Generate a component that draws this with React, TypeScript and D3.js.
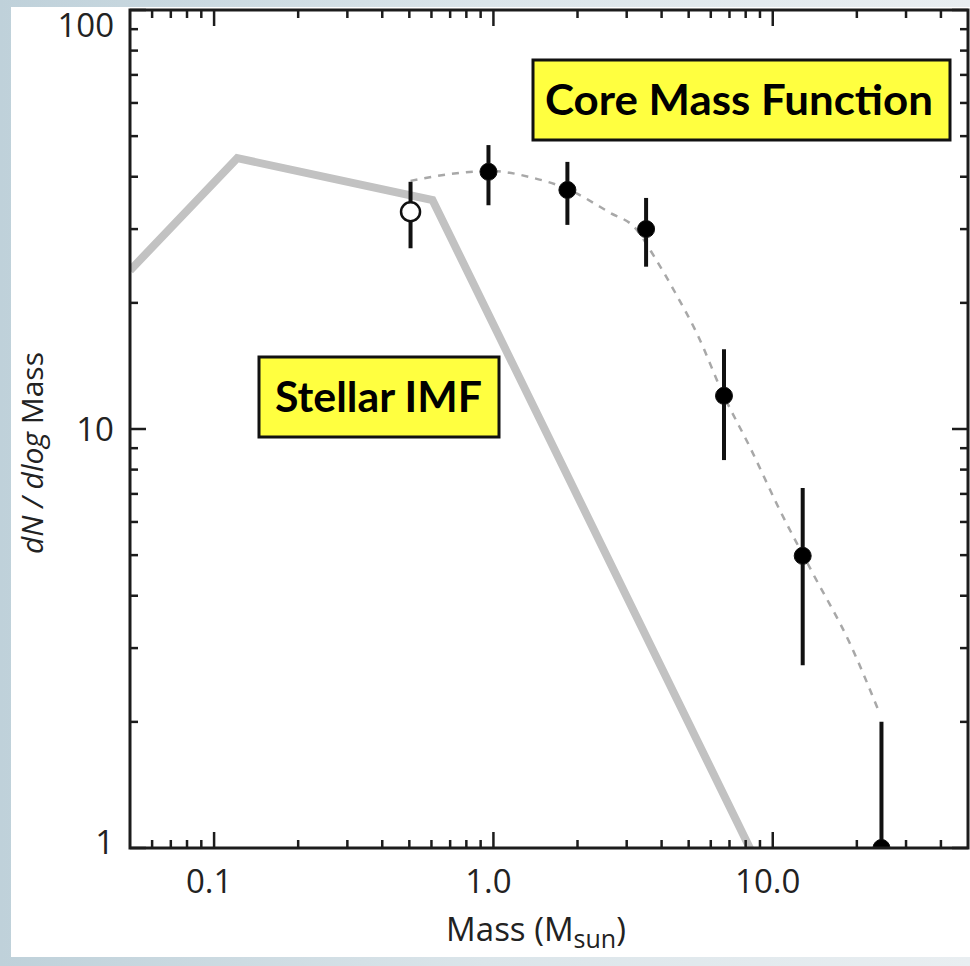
import React from "react";
import * as d3 from "d3";

// ---- data ----
const imfMass = [0.05, 0.121, 0.605, 8.8];
const imfN = [23.9, 44.3, 35.2, 0.92];

const coreMass = [0.505, 0.96, 1.84, 3.52, 6.69, 12.8, 24.5];
const coreN = [33.0, 41.1, 37.2, 30.0, 12.0, 4.98, 1.0];
const coreLo = [27.0, 34.2, 30.7, 24.4, 8.43, 2.73, 0.5];
const coreHi = [38.9, 47.6, 43.4, 35.6, 15.5, 7.23, 2.0];
const coreOpen = [true, false, false, false, false, false, false];

const fitMass = [0.505, 0.702, 0.976, 1.356, 1.838, 2.617, 3.215, 3.79, 4.467, 5.353, 6.683, 8.278, 10.59, 13.9, 18.84, 24.1];
const fitN = [39.1, 40.6, 41.3, 39.9, 37.4, 32.8, 30.2, 25.6, 21.2, 16.9, 12.0, 9.06, 6.41, 4.53, 3.09, 2.1];

const xMajor = [0.1, 1, 10];
const xMajorLabels = ["0.1", "1.0", "10.0"];
const xMinor = [0.06, 0.07, 0.08, 0.09, 0.2, 0.3, 0.4, 0.5, 0.6, 0.7, 0.8, 0.9, 2, 3, 4, 5, 6, 7, 8, 9, 20, 30, 40];
const yMajor = [1, 10, 100];
const yMajorLabels = ["1", "10", "100"];
const yMinor = [2, 3, 4, 5, 6, 7, 8, 9, 20, 30, 40, 50, 60, 70, 80, 90];

const W = 970;
const H = 966;
const L = 130, R = 968, T = 10, B = 848;

export default function App() {
  const x = d3.scaleLog().domain([0.05, 50]).range([L, R]);
  const y = d3.scaleLog().domain([1, 100]).range([B, T]);

  const imfLine = d3.line<number>().x((_, i) => x(imfMass[i])).y((_, i) => y(imfN[i]));
  const fitLine = d3
    .line<number>()
    .x((_, i) => x(fitMass[i]))
    .y((_, i) => y(fitN[i]))
    .curve(d3.curveMonotoneX);

  const axisColor = "#1c1c1c";
  const font = "'Open Sans', 'Noto Sans', sans-serif";
  const boxFont = "Lato, 'Open Sans', sans-serif";
  const MAJ = 16, MIN = 8;

  return (
    <svg width={W} height={H} style={{ position: "absolute", left: 0, top: 0 }}>
      <defs>
        <linearGradient id="bg" x1="0" y1="0" x2="1" y2="0">
          <stop offset="0" stopColor="#bfd1da" />
          <stop offset="0.5" stopColor="#dbe5ea" />
          <stop offset="1" stopColor="#e9eef1" />
        </linearGradient>
        <clipPath id="plot">
          <rect x={L} y={T} width={R - L} height={B - T} />
        </clipPath>
      </defs>
      <rect x={0} y={0} width={W} height={H} fill="url(#bg)" />
      <rect x={11} y={7} width={W - 11} height={957 - 7} fill="#ffffff" />

      <g clipPath="url(#plot)">
        <path d={imfLine(imfMass) || ""} fill="none" stroke="#c2c2c2" strokeWidth={8} strokeLinejoin="miter" />
        <path d={fitLine(fitMass) || ""} fill="none" stroke="#a8a8a8" strokeWidth={2.5} strokeDasharray="7,7" />
        {coreMass.map((m, i) => (
          <line key={"e" + i} x1={x(m)} x2={x(m)} y1={y(coreLo[i])} y2={y(coreHi[i])} stroke="#111" strokeWidth={4} />
        ))}
        {coreMass.map((m, i) => (
          <circle
            key={"c" + i}
            cx={x(m)}
            cy={y(coreN[i])}
            r={coreOpen[i] ? 9.5 : 8.5}
            fill={coreOpen[i] ? "#ffffff" : "#000000"}
            stroke="#111"
            strokeWidth={coreOpen[i] ? 2.5 : 1}
          />
        ))}
      </g>

      {/* frame */}
      <rect x={L} y={T} width={R - L} height={B - T} fill="none" stroke={axisColor} strokeWidth={3} />

      {/* x ticks (bottom + top) */}
      {xMajor.map((v) => (
        <g key={"xM" + v}>
          <line x1={x(v)} x2={x(v)} y1={B} y2={B - MAJ} stroke={axisColor} strokeWidth={2.5} />
          <line x1={x(v)} x2={x(v)} y1={T} y2={T + MAJ} stroke={axisColor} strokeWidth={2.5} />
        </g>
      ))}
      {xMinor.map((v) => (
        <g key={"xm" + v}>
          <line x1={x(v)} x2={x(v)} y1={B} y2={B - MIN} stroke={axisColor} strokeWidth={2.5} />
          <line x1={x(v)} x2={x(v)} y1={T} y2={T + MIN} stroke={axisColor} strokeWidth={2.5} />
        </g>
      ))}
      {/* y ticks (left + right) */}
      {yMajor.map((v) => (
        <g key={"yM" + v}>
          <line x1={L} x2={L + MAJ} y1={y(v)} y2={y(v)} stroke={axisColor} strokeWidth={2.5} />
          <line x1={R} x2={R - MAJ} y1={y(v)} y2={y(v)} stroke={axisColor} strokeWidth={2.5} />
        </g>
      ))}
      {yMinor.map((v) => (
        <g key={"ym" + v}>
          <line x1={L} x2={L + MIN} y1={y(v)} y2={y(v)} stroke={axisColor} strokeWidth={2.5} />
          <line x1={R} x2={R - MIN} y1={y(v)} y2={y(v)} stroke={axisColor} strokeWidth={2.5} />
        </g>
      ))}

      {/* tick labels */}
      {xMajor.map((v, i) => (
        <text key={"xl" + v} x={x(v) - 5} y={893} textAnchor="middle" fontFamily={font} fontSize={33} fill="#222">
          {xMajorLabels[i]}
        </text>
      ))}
      {yMajor.map((v, i) => (
        <text
          key={"yl" + v}
          x={114}
          y={Math.min(Math.max(y(v), 25), 842)}
          dy="0.35em"
          textAnchor="end"
          fontFamily={font}
          fontSize={33}
          fill="#222"
        >
          {yMajorLabels[i]}
        </text>
      ))}

      {/* axis titles */}
      <text x={536} y={941} textAnchor="middle" fontFamily={font} fontSize={33} fill="#222">
        Mass (M<tspan fontSize={25} dy={7}>sun</tspan><tspan dy={-7}>)</tspan>
      </text>
      <text
        transform={`translate(43, ${(B + T) / 2 + 24}) rotate(-90)`}
        textAnchor="middle"
        fontFamily={font}
        fontSize={30}
        fill="#222"
      >
        <tspan fontStyle="italic">dN / dlog</tspan> Mass
      </text>

      {/* annotation boxes */}
      <rect x={533} y={60} width={417} height={80} fill="#ffff40" stroke="#111" strokeWidth={3} />
      <text x={545} y={115} fontFamily={boxFont} fontWeight={700} fontSize={42} fill="#000" textLength={388} lengthAdjust="spacingAndGlyphs">
        Core Mass Function
      </text>
      <rect x={259} y={357} width={240} height={80} fill="#ffff40" stroke="#111" strokeWidth={3} />
      <text x={275} y={412} fontFamily={boxFont} fontWeight={700} fontSize={42} fill="#000" textLength={207} lengthAdjust="spacingAndGlyphs">
        Stellar IMF
      </text>
    </svg>
  );
}
